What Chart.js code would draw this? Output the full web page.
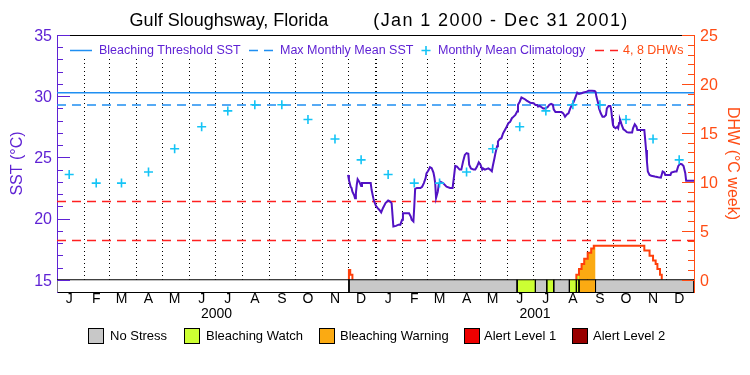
<!DOCTYPE html>
<html>
<head>
<meta charset="utf-8">
<script src="https://cdn.jsdelivr.net/npm/chart.js@4/dist/chart.umd.min.js"></script>
<style>
html,body{margin:0;padding:0;background:#fff;}
canvas{display:block;}
</style>
</head>
<body>
<canvas id="c" width="750" height="375"></canvas>
<script>
// ---------------- DATA ----------------
const titleParts = ['Gulf Sloughsway, Florida', '(Jan 1 2000 - Dec 31 2001)'];
const monthLabels = ['J','F','M','A','M','J','J','A','S','O','N','D','J','F','M','A','M','J','J','A','S','O','N','D'];
// days since 1 Jan 2000
const monthMidDays = [14,45,74,105,135,166,196,227,258,288,319,349,380,410,439,470,500,531,561,592,623,653,684,714];
const monthStartDays = [31,60,91,121,152,182,213,244,274,305,335,366,397,425,456,486,517,547,578,609,639,670,700];
const yearLabels = ['2000','2001'];
const yearMidDays = [183,548.5];
const sstTicks = [15,20,25,30,35];
const dhwTicks = [0,5,10,15,20,25];

const climValues = [23.6,22.9,22.9,23.8,25.7,27.5,28.8,29.3,29.3,28.1,26.5,24.8,
                    23.6,22.9,22.9,23.8,25.7,27.5,28.8,29.3,29.3,28.1,26.5,24.8];

const sstDays = [334,335,337,338,339,341,342,343,344,345,347,349,350,360,361,363,364,366,368,370,372,374,377,380,382,384,385,386,389,392,394,396,397,404,406,407,409,410,411,413,417,419,421,423,424,426,428,430,432,433,434,435,436,437,438,440,443,447,451,454,456,457,459,462,464,466,468,470,472,473,475,478,480,482,484,486,488,489,491,495,497,499,500,502,503,505,506,508,510,512,514,516,518,520,522,524,526,528,529,531,533,535,537,539,541,543,547,549,551,552,554,556,558,560,563,565,567,569,570,572,579,581,583,585,587,589,591,593,596,597,599,602,604,608,610,614,617,618,619,621,622,624,626,628,630,631,633,635,636,637,638,639,641,643,644,645,646,647,648,650,652,654,656,660,661,663,665,666,674,675,676,677,678,680,682,686,690,693,695,697,698,704,705,709,711,713,715,717,719,721,722,731];
const sstValues = [23.57,23.16,22.6,22.5,22.2,21.9,21.67,22.08,22.75,23.22,23.0,22.67,22.9,22.9,22.35,21.67,21.4,21.04,20.85,20.7,20.5,20.85,21.26,21.47,21.4,21.26,20.3,19.35,19.4,19.5,19.5,19.9,20.44,20.44,20.17,19.9,19.76,21.0,22.43,22.5,22.5,22.6,22.9,23.3,23.7,23.9,24.2,24.12,23.76,23.4,22.9,21.67,21.67,22.2,22.75,23.0,22.9,22.6,22.5,22.5,23.7,24.3,24.25,24.0,24.0,24.66,25.2,25.35,25.3,24.4,24.1,24.0,24.0,24.25,24.6,24.4,24.0,24.1,24.0,24.1,24.0,23.86,24.25,24.93,25.3,25.9,26.3,26.5,26.57,26.97,27.24,27.5,27.8,27.9,28.2,28.33,28.47,28.74,29.3,29.55,29.9,29.83,29.75,29.64,29.55,29.47,29.42,29.29,29.29,29.15,29.2,29.1,29.0,29.0,29.1,29.3,29.37,29.3,28.93,28.7,28.7,28.6,28.33,28.5,28.6,29.0,29.3,29.55,30.1,30.29,30.18,30.24,30.3,30.37,30.45,30.45,30.43,30.37,29.97,29.42,29.0,28.6,28.33,28.33,28.47,29.0,29.2,29.2,28.88,28.2,27.65,27.5,27.38,27.5,27.38,27.8,28.1,27.9,27.65,27.3,27.2,27.06,27.03,27.03,27.38,27.7,27.5,27.24,27.24,26.43,25.6,24.66,23.84,23.57,23.5,23.43,23.38,23.35,23.84,23.76,23.57,23.57,23.76,23.84,23.84,24.3,24.47,24.44,24.3,23.7,23.1,23.1];

const dhwDays   = [335,335,336.5,339,340, 596,596,599,602,605,609,613,616,674,680,684,687,689,692,694];
const dhwValues = [0,1.0,0.5,0,null, 0,0.5,1.1,1.6,2.15,2.75,3.2,3.47,3.0,2.45,1.97,1.6,1.09,0.5,0];

const thresholdSST = 30.28;
const mmmSST = 29.28;
const dhwLevels = [4, 8];

// bleaching status bar: -1 = no data, 0 no stress, 1 watch, 2 warning, 3 alert 1, 4 alert 2
const statusStart = [0,335,528,549,562,570,588,596,599,618];
const statusEnd   = [335,528,549,562,570,588,596,599,618,731];
const statusLevel = [-1,0,1,0,1,0,1,1,2,0];
const statusNames = ['No Stress','Bleaching Watch','Bleaching Warning','Alert Level 1','Alert Level 2'];
const legendTopLabels = ['Bleaching Threshold SST','Max Monthly Mean SST','Monthly Mean Climatology','4, 8 DHWs'];

// ---------------- STYLE ----------------
const FONT = '"Liberation Sans", Arial, sans-serif';
Chart.defaults.font.family = FONT;
const PURPLE = '#5f22d4';
const SSTLINE = '#5212c4';
const BLUE = '#1f8ff2';
const CYAN = '#14c4f6';
const RED = '#ff2020';
const DHWC = '#ff3f0a';
const ORANGE_AX = '#ff4c14';
const statusColors = ['#c8c8c8','#ccff33','#fbaa12','#ee0000','#990000'];
const NODATA = '#ffffff';
const SST_MIN = 14, SST_MAX = 35, BAR_TOP = 15;
const DHW_MIN = -1.25, DHW_MAX = 25;
const DAY_MAX = 731;

const pts = (xs, ys) => xs.map((x, i) => ({x: x, y: ys[i]}));

const dhwPts = pts(dhwDays, dhwValues).filter(p => p.y !== null);
function dhwAt(d) {
  let v = 0;
  for (const p of dhwPts) { if (p.x <= d) v = p.y; }
  return v;
}

const datasets = [];
// status bar segments (drawn on top)
statusStart.forEach((s, i) => {
  const e = statusEnd[i], lvl = statusLevel[i];
  datasets.push({
    data: [{x:s,y:SST_MIN},{x:s,y:BAR_TOP},{x:e,y:BAR_TOP},{x:e,y:SST_MIN}],
    xAxisID:'x', yAxisID:'y', borderColor:'#000', borderWidth:1,
    backgroundColor: lvl < 0 ? NODATA : statusColors[lvl], fill:'start',
    pointRadius:0, tension:0
  });
});
// climatology crosses
datasets.push({
  data: pts(monthMidDays, climValues), xAxisID:'x', yAxisID:'y',
  showLine:false, pointStyle:'cross', pointRadius:4.5, pointBorderWidth:1.6,
  pointBorderColor:CYAN, borderColor:CYAN, backgroundColor:CYAN
});
// SST
datasets.push({
  data: pts(sstDays, sstValues), xAxisID:'x', yAxisID:'y',
  borderColor:SSTLINE, borderWidth:2, pointRadius:0, tension:0, fill:false
});
// DHW line
datasets.push({
  data: pts(dhwDays, dhwValues), xAxisID:'x', yAxisID:'y2', stepped:true,
  borderColor:DHWC, borderWidth:2, pointRadius:0, fill:false, spanGaps:false
});
// DHW fills coloured by status
statusStart.forEach((s, i) => {
  const e = statusEnd[i], lvl = statusLevel[i];
  if (lvl < 1) return;
  const d = [{x:s, y:dhwAt(s)}];
  dhwPts.forEach(p => { if (p.x > s && p.x < e) d.push(p); });
  d.push({x:e, y:dhwAt(e)});
  datasets.push({
    data:d, xAxisID:'x', yAxisID:'y2', stepped:true, borderWidth:0,
    borderColor:'rgba(0,0,0,0)', backgroundColor:statusColors[lvl], fill:{value:0}, pointRadius:0
  });
});
// reference lines
datasets.push({data:[{x:0,y:thresholdSST},{x:DAY_MAX,y:thresholdSST}], xAxisID:'x', yAxisID:'y',
  borderColor:BLUE, borderWidth:1.5, pointRadius:0, fill:false});
datasets.push({data:[{x:0,y:mmmSST},{x:DAY_MAX,y:mmmSST}], xAxisID:'x', yAxisID:'y',
  borderColor:BLUE, borderWidth:1.5, borderDash:[9,6], pointRadius:0, fill:false});
dhwLevels.forEach(l => datasets.push({data:[{x:0,y:l},{x:DAY_MAX,y:l}], xAxisID:'x', yAxisID:'y2',
  borderColor:RED, borderWidth:1.5, borderDash:[9,6], pointRadius:0, fill:false}));

// ---------------- PLUGIN (ticks, title, legends) ----------------
const decor = {
  id:'decor',
  afterDraw(chart) {
    const {ctx, chartArea:a} = chart;
    const ys = chart.scales.y, y2 = chart.scales.y2;
    ctx.save();
    ctx.fillStyle = '#fff';
    ctx.fillRect(a.left + 1, a.top + 1, a.right - a.left - 2, 23);
    // inward ticks
    ctx.lineWidth = 1; ctx.setLineDash([]);
    ctx.strokeStyle = PURPLE; ctx.beginPath();
    for (let v = BAR_TOP; v <= SST_MAX; v++) {
      const p = Math.round(ys.getPixelForValue(v)) + 0.5;
      const len = v % 5 === 0 ? 13 : 6;
      ctx.moveTo(a.left, p); ctx.lineTo(a.left + len, p);
    }
    ctx.stroke();
    ctx.strokeStyle = ORANGE_AX; ctx.beginPath();
    for (let v = 0; v <= DHW_MAX; v++) {
      const p = Math.round(y2.getPixelForValue(v)) + 0.5;
      const len = v % 5 === 0 ? 12 : 6;
      ctx.moveTo(a.right, p); ctx.lineTo(a.right - len, p);
    }
    ctx.stroke();
    // title
    ctx.fillStyle = '#000'; ctx.font = '18px ' + FONT;
    ctx.textBaseline = 'middle'; ctx.textAlign = 'center';
    ctx.fillText(titleParts[0], 229, 21);
    if ('letterSpacing' in ctx) ctx.letterSpacing = '1.4px';
    ctx.fillText(titleParts[1], 501, 21);
    if ('letterSpacing' in ctx) ctx.letterSpacing = '0px';
    // top legend
    const ly = 50.5;
    ctx.font = '12.5px ' + FONT; ctx.textAlign = 'left';
    ctx.lineWidth = 1.5; ctx.strokeStyle = BLUE;
    ctx.beginPath(); ctx.moveTo(70, ly); ctx.lineTo(92, ly); ctx.stroke();
    ctx.fillStyle = PURPLE; ctx.fillText(legendTopLabels[0], 99, ly);
    ctx.setLineDash([9,6]);
    ctx.beginPath(); ctx.moveTo(249, ly); ctx.lineTo(273, ly); ctx.stroke();
    ctx.fillText(legendTopLabels[1], 280, ly);
    ctx.setLineDash([]); ctx.strokeStyle = CYAN; ctx.lineWidth = 1.6;
    ctx.beginPath(); ctx.moveTo(421.5, ly); ctx.lineTo(430.5, ly); ctx.moveTo(426, ly - 4.5); ctx.lineTo(426, ly + 4.5); ctx.stroke();
    ctx.fillText(legendTopLabels[2], 438, ly);
    ctx.setLineDash([9,6]); ctx.strokeStyle = RED; ctx.lineWidth = 1.5;
    ctx.beginPath(); ctx.moveTo(595, ly); ctx.lineTo(618, ly); ctx.stroke();
    ctx.fillStyle = ORANGE_AX; ctx.fillText(legendTopLabels[3], 623, ly);
    // bottom status legend
    ctx.setLineDash([]);
    const bx = [88,184,319,464,572], tx = [110,206,340,484,593];
    ctx.font = '13px ' + FONT; ctx.lineWidth = 1; ctx.strokeStyle = '#000';
    statusNames.forEach((n, i) => {
      ctx.fillStyle = statusColors[i];
      ctx.fillRect(bx[i], 328, 16, 16);
      ctx.strokeRect(bx[i] + 0.5, 328.5, 15, 15);
      ctx.fillStyle = '#000';
      ctx.fillText(n, tx[i], 336.5);
    });
    ctx.restore();
  }
};

// ---------------- CHART ----------------
new Chart(document.getElementById('c'), {
  type:'line',
  data:{datasets:datasets},
  plugins:[decor],
  options:{
    responsive:false, animation:false, devicePixelRatio:1, events:[],
    layout:{padding:{top:35, left:0, right:0, bottom:0}},
    plugins:{legend:{display:false}, title:{display:false}, tooltip:{enabled:false}},
    scales:{
      x:{type:'linear', axis:'x', position:'bottom', min:0, max:DAY_MAX, weight:0,
        afterBuildTicks:s => { s.ticks = monthMidDays.map(v => ({value:v})); },
        afterFit:s => { s.height = 14; },
        ticks:{autoSkip:false, maxRotation:0, minRotation:0, padding:-1, color:'#000', font:{size:14},
          callback:(v, i) => monthLabels[i]},
        grid:{display:false, drawTicks:false},
        border:{display:true, color:'#000', width:1}},
      x3:{type:'linear', axis:'x', position:'bottom', min:0, max:DAY_MAX, weight:1,
        afterBuildTicks:s => { s.ticks = yearMidDays.map(v => ({value:v})); },
        afterFit:s => { s.height = 69; },
        ticks:{autoSkip:false, maxRotation:0, minRotation:0, padding:0, color:'#000', font:{size:14},
          callback:(v, i) => yearLabels[i]},
        grid:{display:false, drawTicks:false},
        border:{display:false}},
      xm:{type:'linear', axis:'x', position:'bottom', min:0, max:DAY_MAX, weight:-1,
        afterBuildTicks:s => { s.ticks = monthStartDays.map(v => ({value:v})); },
        afterFit:s => { s.height = 0; },
        ticks:{display:false},
        grid:{display:true, drawOnChartArea:true, drawTicks:false, color:'#000',
          lineWidth:c => (c.tick && c.tick.value === 366) ? 2 : 1, borderDash:[1,3]},
        border:{display:false, dash:[1,3]}},
      xt:{type:'linear', axis:'x', position:'top', min:0, max:DAY_MAX,
        afterFit:s => { s.height = 0; },
        ticks:{display:false}, grid:{display:false, drawTicks:false},
        border:{display:true, color:'#000', width:1}},
      y:{type:'linear', axis:'y', position:'left', min:SST_MIN, max:SST_MAX,
        afterBuildTicks:s => { s.ticks = sstTicks.map(v => ({value:v})); },
        afterFit:s => { s.width = 57; },
        ticks:{autoSkip:false, padding:5, labelOffset:1.5, color:PURPLE, font:{size:16}},
        grid:{display:false, drawTicks:false},
        border:{display:true, color:PURPLE, width:1},
        title:{display:true, text:'SST (°C)', color:PURPLE, font:{size:16}, padding:{top:8, bottom:0}}},
      y2:{type:'linear', axis:'y', position:'right', min:DHW_MIN, max:DHW_MAX,
        afterBuildTicks:s => { s.ticks = dhwTicks.map(v => ({value:v})); },
        afterFit:s => { s.width = 56; },
        ticks:{autoSkip:false, padding:6, labelOffset:1.5, color:ORANGE_AX, font:{size:16}},
        grid:{display:false, drawTicks:false},
        border:{display:true, color:ORANGE_AX, width:1},
        title:{display:true, text:'DHW (°C week)', color:ORANGE_AX, font:{size:16}, padding:{top:8, bottom:0}}}
    }
  }
});
</script>
</body>
</html>
